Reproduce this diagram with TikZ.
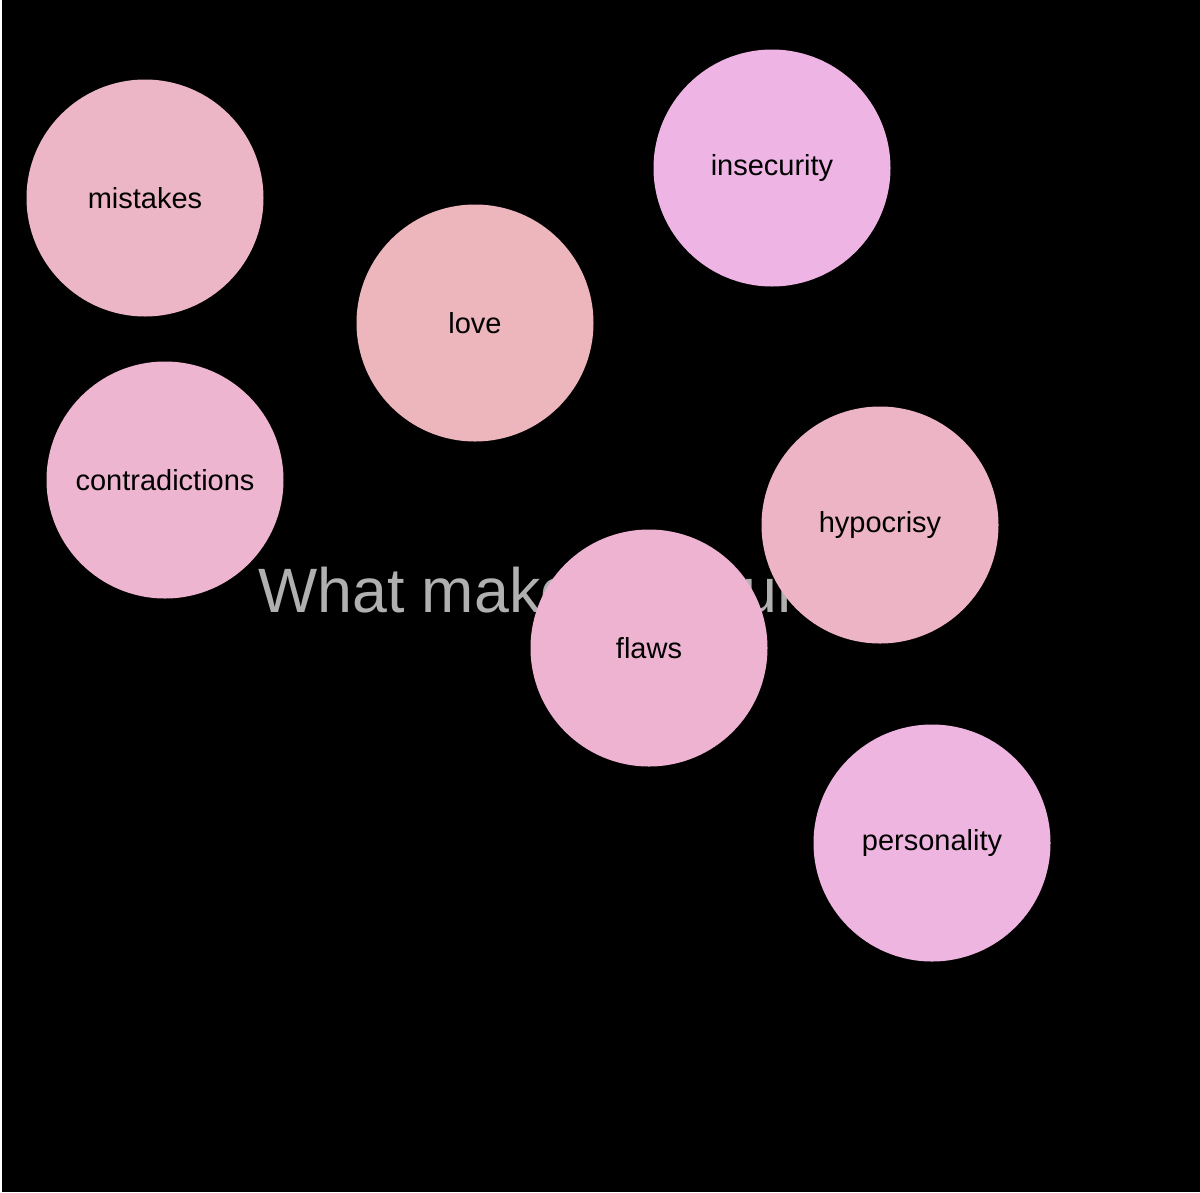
\documentclass[tikz,border=0pt]{standalone}
\usepackage{fontspec}
\setmainfont{Liberation Sans}
\definecolor{cA}{HTML}{EDB6C6}
\definecolor{cB}{HTML}{EDB5BC}
\definecolor{cC}{HTML}{EDB4E4}
\definecolor{cD}{HTML}{EEB5D0}
\definecolor{cE}{HTML}{EDB4C5}
\definecolor{cF}{HTML}{EEB3D0}
\definecolor{cG}{HTML}{EEB5E0}
\definecolor{titlegray}{HTML}{B0B0B0}
\begin{document}
\begin{tikzpicture}[x=1pt,y=-1pt,
  bubble/.style={circle,minimum size=237pt,inner sep=0pt,font=\fontsize{29}{32}\selectfont,text=black}]
\useasboundingbox (0,0) rectangle (1200,1192);
\fill[white] (0,0) rectangle (2,1192);
\fill[black] (2,0) rectangle (1200,1192);
\node[anchor=base west,text=titlegray,font=\fontsize{62.7}{70}\selectfont,inner sep=0pt] (title) at (258,612) {What makes you unique?};
\node[bubble,fill=cA] (mistakes) at (145,198) {mistakes};
\node[bubble,fill=cB] (love) at (475,323) {love};
\node[bubble,fill=cC] (insecurity) at (772,168) {insecurity};
\node[bubble,fill=cD] (contradictions) at (165,480) {contradictions};
\node[bubble,fill=cE] (hypocrisy) at (880,525) {hypocrisy};
\node[bubble,fill=cF] (flaws) at (649,648) {flaws};
\node[bubble,fill=cG] (personality) at (932,843) {personality};
\end{tikzpicture}
\end{document}
